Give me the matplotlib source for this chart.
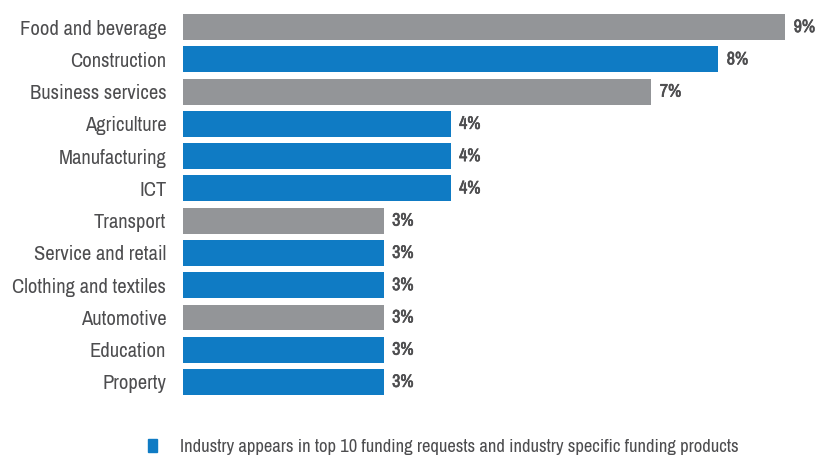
import matplotlib
matplotlib.use("Agg")
import matplotlib.pyplot as plt
import matplotlib.patheffects as pe
from matplotlib.patches import Patch

# Share of requests by industry (%)
industries = ["Food and beverage", "Construction", "Business services", "Agriculture",
              "Manufacturing", "ICT", "Transport", "Service and retail",
              "Clothing and textiles", "Automotive", "Education", "Property"]
shares = [9, 8, 7, 4, 4, 4, 3, 3, 3, 3, 3, 3]
# True where the industry also has specific funding products
has_products = [False, True, False, True, True, True, False, True, True, False, True, True]

BLUE = "#0f7bc4"
GREY = "#939598"
TEXT = "#4d4d4f"
FONT = ["Archivo Narrow", "Roboto Condensed", "DejaVu Sans"]

plt.rcParams["font.family"] = FONT

fig = plt.figure(figsize=(8.17, 4.57), dpi=100)
ax = fig.add_axes([0.224, 0.129, 0.770, 0.847])

colors = [BLUE if p else GREY for p in has_products]
ypos = list(range(len(industries)))
ax.barh(ypos, shares, height=0.8, color=colors)

# value labels, thickened a little with a stroke of the same colour
heavy = [pe.withStroke(linewidth=0.45, foreground=TEXT)]
for y, v in zip(ypos, shares):
    ax.annotate(f"{v}%", xy=(v, y), xytext=(6, 0), textcoords="offset points",
                ha="left", va="center", fontsize=13, color=TEXT, path_effects=heavy)

ax.set_yticks(ypos)
ax.set_yticklabels(industries, fontsize=14.8, color=TEXT)
ax.tick_params(axis="y", length=0, pad=12)
ax.set_xticks([])
ax.set_xlim(0, 9.4)
ax.set_ylim(len(industries) - 0.5, -0.5)
for s in ax.spines.values():
    s.set_visible(False)

fig.legend(handles=[Patch(color=BLUE,
                          label="Industry appears in top 10 funding requests and industry specific funding products")],
           loc="center left", bbox_to_anchor=(0.181, 0.021), frameon=False,
           borderpad=0, borderaxespad=0,
           handlelength=0.5, handleheight=0.7, handletextpad=1.25,
           prop={"family": FONT, "size": 13.4}, labelcolor=TEXT)

fig.savefig("out.png", dpi=100)
